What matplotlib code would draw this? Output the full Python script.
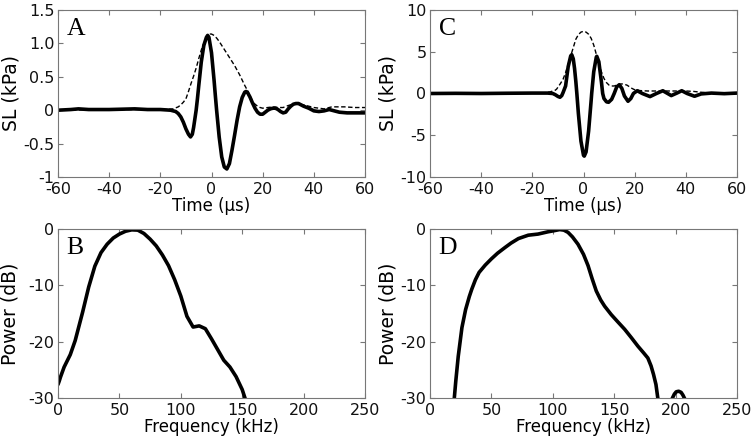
import matplotlib
matplotlib.use("Agg")
import matplotlib.pyplot as plt

plt.rcParams['font.family'] = ['DejaVu Sans']

# ---------------- Data ----------------
# Panel A: waveform (kPa) vs time (us)
a_t = [-60, -55, -52, -48, -44, -40, -35, -30, -25, -20, -16, -14, -13, -12, -11, -10, -9,
       -8.2, -7.5, -7, -6.5, -6, -5.5, -5, -4, -3, -2, -1.5, -1, 0, 1, 1.5, 2, 3, 4, 5, 6,
       7, 8, 9, 10, 11, 12, 13, 13.5, 14, 15, 16, 17, 18, 19, 20, 21, 22, 23, 24, 25, 26,
       27, 28, 29, 30, 31, 32, 33, 34, 35, 36, 38, 40, 42, 44, 46, 48, 50, 53, 56, 60]
a_sl = [0.0, 0.01, 0.02, 0.01, 0.01, 0.01, 0.015, 0.02, 0.01, 0.01, 0.0, -0.02, -0.05, -0.1,
        -0.18, -0.28, -0.36, -0.40, -0.36, -0.26, -0.13, 0.0, 0.17, 0.36, 0.72, 0.97, 1.09,
        1.12, 1.09, 0.86, 0.45, 0.22, 0.0, -0.4, -0.7, -0.85, -0.88, -0.8, -0.6, -0.38,
        -0.15, 0.05, 0.19, 0.27, 0.28, 0.27, 0.2, 0.11, 0.03, -0.03, -0.06, -0.06, -0.03,
        0.0, 0.02, 0.03, 0.03, 0.01, -0.02, -0.04, -0.03, 0.02, 0.06, 0.09, 0.1, 0.1, 0.08,
        0.06, 0.03, -0.01, -0.02, -0.01, 0.01, -0.01, -0.03, -0.04, -0.04, -0.04]
a_env_t = [-60, -40, -25, -18, -15, -13, -12, -11, -10, -9, -8, -7, -6, -5, -4, -3, -2, -1,
           -0.5, 0, 1, 2, 3, 4, 5, 6, 7, 8, 9, 10, 11, 12, 13, 14, 15, 16, 17, 18, 19, 20,
           22, 24, 26, 28, 30, 33, 36, 40, 44, 47, 52, 56, 60]
a_env = [0.0, 0.01, 0.01, 0.01, 0.02, 0.05, 0.08, 0.12, 0.17, 0.28, 0.4, 0.51, 0.63, 0.77,
         0.9, 1.0, 1.08, 1.13, 1.14, 1.14, 1.12, 1.08, 1.03, 0.97, 0.91, 0.85, 0.79, 0.73,
         0.67, 0.6, 0.53, 0.45, 0.37, 0.3, 0.22, 0.14, 0.09, 0.06, 0.04, 0.03, 0.04, 0.05,
         0.04, 0.04, 0.07, 0.1, 0.08, 0.04, 0.02, 0.05, 0.05, 0.04, 0.04]

# Panel C: waveform (kPa) vs time (us)
c_t = [-60, -50, -40, -30, -20, -14, -12, -11, -10, -9.2, -8.5, -8, -7, -6, -5, -4.6, -4,
       -3.5, -3, -2.6, -2, -1, 0, 0.3, 1, 2, 3, 3.2, 4, 5, 5.2, 6, 7, 7.5, 8, 9, 9.8, 11,
       12, 13, 14, 15, 16, 17.4, 18.5, 19.5, 21, 23, 26, 28.5, 31, 34.3, 36.5, 38.4, 40.5,
       43.4, 46, 50, 55, 60]
c_sl = [0.0, 0.02, 0.0, 0.03, 0.05, 0.05, 0.0, -0.15, -0.35, -0.45, -0.25, 0.1, 0.9, 3.2,
        4.5, 4.65, 4.15, 3.0, 1.45, 0.0, -2.4, -5.7, -7.4, -7.5, -7.0, -4.5, -0.8, 0.0, 2.6,
        4.35, 4.45, 3.8, 1.4, 0.0, -0.6, -1.0, -1.05, -0.7, 0.0, 0.8, 1.05, 0.6, -0.3,
        -0.93, -0.6, 0.0, 0.33, 0.0, -0.37, 0.0, 0.33, -0.25, 0.05, 0.33, 0.0, -0.33,
        -0.05, 0.05, -0.02, 0.05]
c_env_t = [-60, -40, -20, -15, -13, -12, -11, -10.5, -10, -9, -8, -7, -6, -5, -4, -3, -2,
           -1, 0, 1, 2, 3, 4, 5, 6, 7, 8, 9, 10, 11, 12, 13, 14, 15, 16, 17, 18, 19, 20, 22,
           25, 30, 35, 40, 43, 46, 50, 60]
c_env = [0.0, 0.0, 0.05, 0.1, 0.2, 0.3, 0.4, 0.53, 0.75, 1.2, 1.7, 2.5, 3.5, 4.5, 5.5, 6.5,
         7.05, 7.35, 7.45, 7.35, 7.1, 6.6, 5.8, 4.7, 3.6, 2.6, 1.8, 1.3, 1.0, 0.9, 0.9, 1.0,
         1.1, 1.15, 1.1, 1.0, 0.8, 0.6, 0.45, 0.35, 0.3, 0.3, 0.3, 0.3, 0.25, 0.15, 0.05,
         0.0]

# Panel B: power spectrum (dB) vs frequency (kHz)
b_f = [0, 1, 2, 5, 10, 14, 20, 25, 30, 35, 40, 45, 50, 55, 60, 65, 70, 75, 80, 85, 90, 95,
       100, 105, 110, 115, 120, 125, 130, 135, 140, 145, 150, 153, 156]
b_db = [-27.6, -27.0, -26.3, -24.5, -22.3, -19.8, -14.8, -10.3, -6.6, -4.2, -2.7, -1.6,
        -0.9, -0.4, -0.15, -0.2, -0.8, -1.8, -3.0, -4.6, -6.5, -9.0, -11.9, -15.5, -17.4,
        -17.2, -17.7, -19.5, -21.4, -23.3, -24.5, -26.2, -28.5, -30.5, -32]

# Panel D: power spectrum (dB) vs frequency (kHz)
d_f = [17, 19.8, 21, 23, 26, 29, 32, 34, 37, 40, 45, 50, 55, 61, 66, 72, 80, 88, 96, 101,
       105.6, 109, 112.4, 116, 120.5, 125, 128.7, 132, 135.4, 139, 142.2, 147.6, 153, 158.5,
       164, 169.3, 174, 177.4, 180, 182, 184, 185.5, 187]
d_db = [-34, -30, -27, -22.6, -17.5, -14.3, -12, -10.7, -9.0, -7.7, -6.4, -5.3, -4.3, -3.3,
        -2.5, -1.7, -1.1, -0.9, -0.5, -0.3, -0.1, -0.2, -0.6, -1.4, -2.7, -4.5, -6.5, -8.8,
        -11.0, -12.6, -13.7, -15.2, -16.5, -17.8, -19.3, -20.8, -22.0, -22.9, -24.3, -25.8,
        -27.6, -30.0, -32]
d2_f = [195, 197, 199, 200.5, 202.5, 204.5, 206, 208, 210]
d2_db = [-32, -30.2, -29.3, -28.9, -28.8, -29.0, -29.5, -30.4, -32]

time_ticks = [-60, -40, -20, 0, 20, 40, 60]
freq_ticks = [0, 50, 100, 150, 200, 250]
a_yticks = [-1, -0.5, 0, 0.5, 1.0, 1.5]
a_yticklabels = ["-1", "-0.5", "0", "0.5", "1.0", "1.5"]
c_yticks = [-10, -5, 0, 5, 10]
c_yticklabels = ["-10", "-5", "0", "5", "10"]
p_yticks = [-30, -20, -10, 0]
p_yticklabels = ["-30", "-20", "-10", "0"]
x_time_labels = ["-60", "-40", "-20", "0", "20", "40", "60"]
x_freq_labels = ["0", "50", "100", "150", "200", "250"]

# ---------------- Figure ----------------
W, H = 756, 446
fig = plt.figure(figsize=(W / 100, H / 100), dpi=100)

def box(l, t, r, b):
    return [l / W, 1 - b / H, (r - l) / W, (b - t) / H]

axA = fig.add_axes(box(58, 10, 365, 177))
axC = fig.add_axes(box(430, 10, 737, 177))
axB = fig.add_axes(box(58, 229, 365, 398))
axD = fig.add_axes(box(430, 229, 737, 398))

spine_col = '#777777'
tick_fs = 11.5
xl_fs = 12
yl_fs = 13.5

def style(ax):
    for s in ax.spines.values():
        s.set_color(spine_col)
        s.set_linewidth(0.8)
    ax.tick_params(direction='in', length=3.5, width=0.8, color=spine_col,
                   top=True, right=True, labelsize=tick_fs, labelcolor='#111111')
    ax.tick_params(axis='x', pad=3.5)
    ax.tick_params(axis='y', pad=2.5)

solid_kw = dict(color='black', lw=2.6, solid_joinstyle='round', solid_capstyle='round')
dash_kw = dict(color='black', lw=1.0, linestyle=(0, (3.2, 1.8)))

# A
axA.plot(a_env_t, a_env, **dash_kw)
axA.plot(a_t, a_sl, **solid_kw)
axA.set_xlim(-60, 60)
axA.set_ylim(-1, 1.5)
axA.set_xticks(time_ticks, x_time_labels)
axA.set_yticks(a_yticks, a_yticklabels)
axA.set_xlabel("Time (µs)", fontsize=xl_fs)
axA.set_ylabel("SL (kPa)", fontsize=yl_fs)

# C
axC.plot(c_env_t, c_env, **dash_kw)
axC.plot(c_t, c_sl, **solid_kw)
axC.set_xlim(-60, 60)
axC.set_ylim(-10, 10)
axC.set_xticks(time_ticks, x_time_labels)
axC.set_yticks(c_yticks, c_yticklabels)
axC.set_xlabel("Time (µs)", fontsize=xl_fs)
axC.set_ylabel("SL (kPa)", fontsize=yl_fs)

# B
axB.plot(b_f, b_db, **solid_kw)
axB.set_xlim(0, 250)
axB.set_ylim(-30, 0)
axB.set_xticks(freq_ticks, x_freq_labels)
axB.set_yticks(p_yticks, p_yticklabels)
axB.set_xlabel("Frequency (kHz)", fontsize=xl_fs)
axB.set_ylabel("Power (dB)", fontsize=yl_fs)

# D
axD.plot(d_f, d_db, **solid_kw)
axD.plot(d2_f, d2_db, **solid_kw)
axD.set_xlim(0, 250)
axD.set_ylim(-30, 0)
axD.set_xticks(freq_ticks, x_freq_labels)
axD.set_yticks(p_yticks, p_yticklabels)
axD.set_xlabel("Frequency (kHz)", fontsize=xl_fs)
axD.set_ylabel("Power (dB)", fontsize=yl_fs)

for ax in (axA, axC):
    ax.xaxis.set_label_coords(0.5, -20 / 167)
for ax in (axB, axD):
    ax.xaxis.set_label_coords(0.5, -20 / 169)
axA.yaxis.set_label_coords(-47 / 307, 0.5)
axB.yaxis.set_label_coords(-48 / 307, 0.5)
axC.yaxis.set_label_coords(-42 / 307, 0.5)
axD.yaxis.set_label_coords(-42 / 307, 0.5)
for ax in (axA, axB, axC, axD):
    ax.yaxis.label.set_verticalalignment('center')

for ax, letter in [(axA, "A"), (axB, "B"), (axC, "C"), (axD, "D")]:
    style(ax)
    ax.text(0.028, 0.95, letter, transform=ax.transAxes, ha='left', va='top',
            fontsize=18.5, family='Liberation Serif', color='black')

fig.savefig("out.png", dpi=100)
